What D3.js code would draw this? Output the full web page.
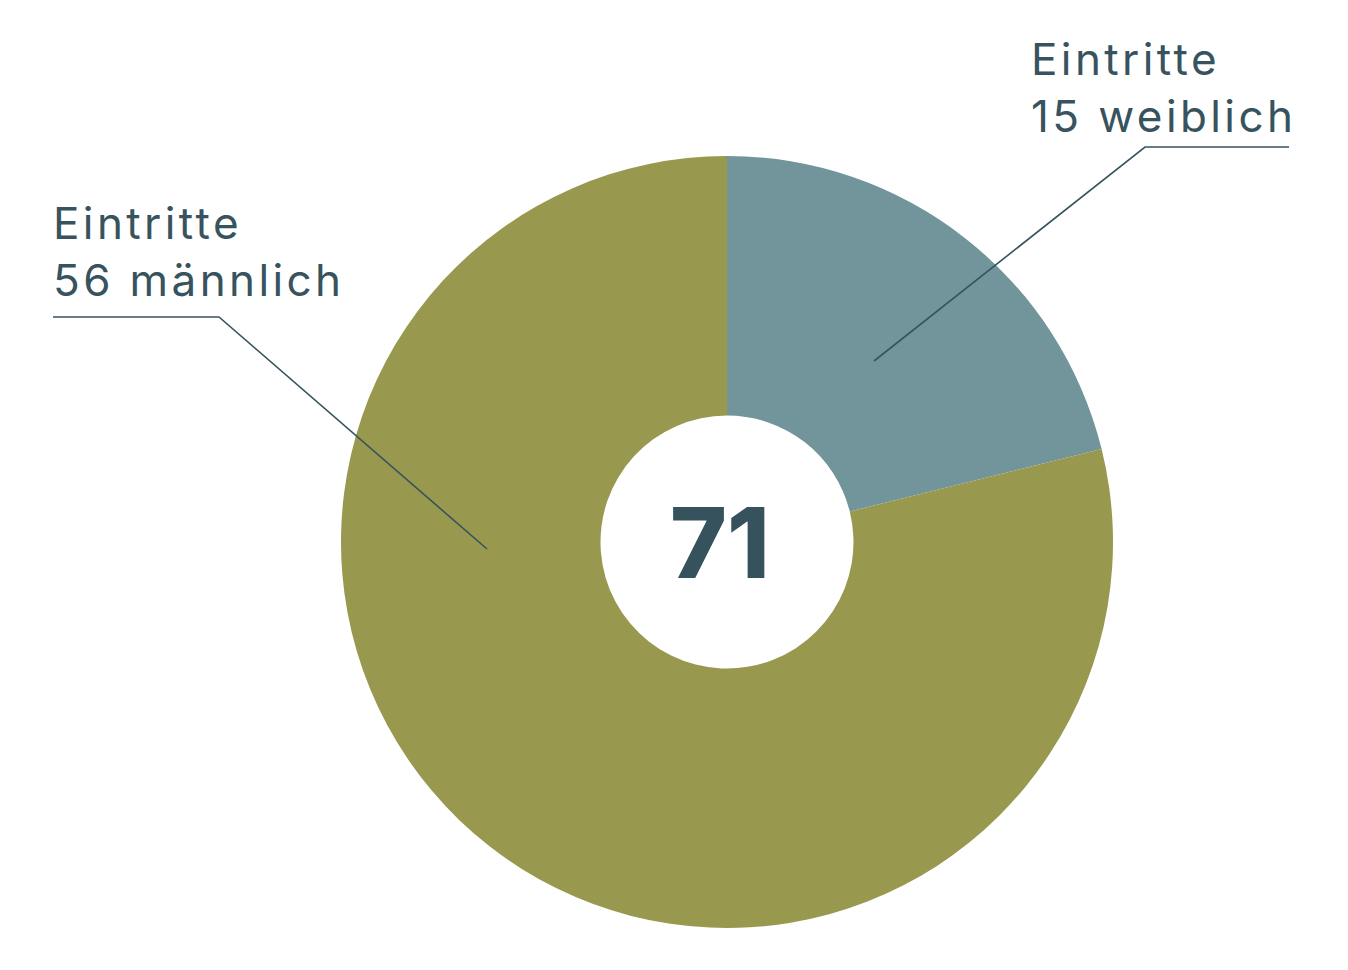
<!DOCTYPE html>
<html><head><meta charset="utf-8">
<script src="https://cdn.jsdelivr.net/npm/d3@7"></script>
<style>html,body{margin:0;padding:0;background:#fff;}</style>
</head><body>
<script>
const categories = ["weiblich", "männlich"];
const values = [15, 56];
const labelTop = ["Eintritte", "Eintritte"];
const total = values.reduce((a,b)=>a+b,0);
const colors = ["#72959b", "#98984e"];
const textColor = "#37535e";

const W = 1348, H = 970;
const cx = 727, cy = 542, R = 386, r = 126.5;
const svg = d3.select("body").append("svg").attr("width", W).attr("height", H);
const g = svg.append("g").attr("transform", `translate(${cx},${cy})`);

const pie = d3.pie().sort(null).value(d => d.v);
const arcs = pie(categories.map((c,i)=>({c, v: values[i], i})));
const arc = d3.arc().innerRadius(r).outerRadius(R);
g.selectAll("path.slice").data(arcs).join("path")
  .attr("class","slice").attr("d", arc).attr("fill", d => colors[d.data.i]);

g.append("text").attr("x", -7).attr("y", 36).attr("text-anchor","middle")
  .attr("font-family","Inter").attr("font-weight", 800).attr("font-size", 97)
  .attr("fill", "#36525d").text(total);

// label layout (positions)
const layout = [
  {tx: 1031, b1: 75, b2: 132, line: [[874,361],[1145,147],[1289,147]]},
  {tx: 53, b1: 239, b2: 296, line: [[487,549],[219,317],[53,317]]}
];
categories.forEach((c,i) => {
  const L = layout[i];
  const t = svg.append("text").attr("font-family","Inter").attr("font-size", 44)
    .attr("letter-spacing", 3.4).attr("fill", textColor);
  t.append("tspan").attr("x", L.tx).attr("y", L.b1).text(labelTop[i]);
  t.append("tspan").attr("x", L.tx).attr("y", L.b2).text(values[i] + " " + c);
  svg.append("path").attr("d", d3.line()(L.line)).attr("fill","none")
    .attr("stroke", textColor).attr("stroke-width", 1.6);
});
</script>
</body></html>
